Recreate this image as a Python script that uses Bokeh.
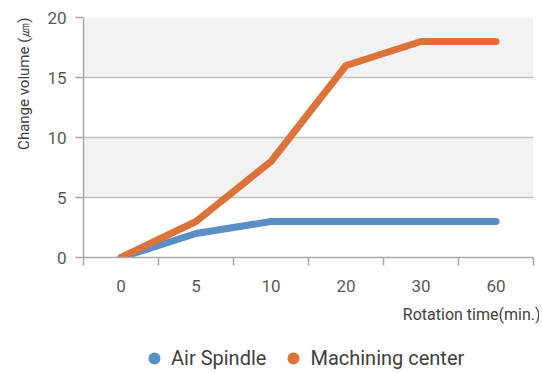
from bokeh.plotting import figure
from bokeh.layouts import column
from bokeh.models import FixedTicker, Range1d, Legend, LegendItem, Title
from bokeh.embed import file_html
from bokeh.resources import INLINE

categories = ["0", "5", "10", "20", "30", "60"]
air_spindle = [0, 2, 3, 3, 3, 3]
machining_center = [0, 3, 8, 16, 18, 18]
y_ticks = [0, 5, 10, 15, 20]

BLUE = "#5a8ec6"
ORANGE = "#db733a"
AXIS = "#a6a6a6"
FONT = "Roboto"

idx = list(range(len(categories)))

p = figure(frame_width=450, frame_height=240, output_backend="svg", toolbar_location=None,
           x_range=Range1d(-0.5, len(categories) - 0.5), y_range=Range1d(0, 20),
           min_border_left=76, min_border_top=17, min_border_right=6, min_border_bottom=86)
p.outline_line_color = None
p.background_fill_color = "white"
p.xgrid.visible = False
p.ygrid.ticker = FixedTicker(ticks=y_ticks)
p.ygrid.grid_line_color = "#bfbfbf"
p.ygrid.grid_line_width = 1.5
p.ygrid.band_fill_color = "#f2f2f2"
p.ygrid.band_fill_alpha = 1

xa = p.xaxis[0]
xa.ticker = FixedTicker(ticks=idx, minor_ticks=[i - 0.5 for i in range(len(categories) + 1)])
xa.major_label_overrides = {i: c for i, c in zip(idx, categories)}
xa.major_tick_out = 0
xa.major_tick_in = 0
xa.minor_tick_out = 8
xa.minor_tick_in = 0
xa.minor_tick_line_color = AXIS
xa.minor_tick_line_width = 1.5
xa.axis_line_color = AXIS
xa.axis_line_width = 1.5
xa.major_label_text_font = FONT
xa.major_label_text_font_size = "17px"
xa.major_label_text_color = "#595959"
xa.major_label_standoff = 14

ya = p.yaxis[0]
ya.ticker = FixedTicker(ticks=y_ticks)
ya.major_tick_out = 8
ya.major_tick_in = 0
ya.minor_tick_out = 0
ya.minor_tick_in = 0
ya.major_tick_line_color = AXIS
ya.major_tick_line_width = 1.5
ya.axis_line_color = AXIS
ya.axis_line_width = 1.5
ya.major_label_text_font = FONT
ya.major_label_text_font_size = "17px"
ya.major_label_text_color = "#595959"
ya.major_label_standoff = 9

p.line(idx, air_spindle, line_width=7, line_color=BLUE, line_cap="round", line_join="round")
p.line(idx, machining_center, line_width=7, line_color=ORANGE, line_cap="round", line_join="round")

yt = Title(text="Change volume (㎛)", align="right", text_font=FONT,
           text_font_size="15px", text_font_style="normal", text_color="#404040",
           standoff=24)
p.add_layout(yt, "left")

t = Title(text="Rotation time(min.)", align="right", text_font=FONT,
          text_font_size="16px", text_font_style="normal", text_color="#404040",
          offset=-7, standoff=16)
p.add_layout(t, "below")

# legend strip below the chart
lg = figure(width=532, height=30, output_backend="svg", toolbar_location=None,
            x_axis_location=None, y_axis_location=None,
            min_border_left=0, min_border_right=0, min_border_top=0, min_border_bottom=0)
lg.outline_line_color = None
lg.xgrid.visible = False
lg.ygrid.visible = False
s1 = lg.scatter(idx, air_spindle, size=0, fill_color=BLUE, line_color=None)
s2 = lg.scatter(idx, machining_center, size=0, fill_color=ORANGE, line_color=None)

legend = Legend(items=[LegendItem(label="Air Spindle", renderers=[s1]),
                       LegendItem(label="Machining center", renderers=[s2])],
                orientation="horizontal", location=(56, 0),
                border_line_color=None, background_fill_alpha=0,
                glyph_width=30, glyph_height=30, label_standoff=2, spacing=12,
                padding=0, margin=0,
                label_text_font=FONT, label_text_font_size="20px",
                label_text_color="#404040")
lg.add_layout(legend, "center")

layout = column(p, lg, spacing=0)
open("out.html", "w").write(file_html(layout, INLINE))
